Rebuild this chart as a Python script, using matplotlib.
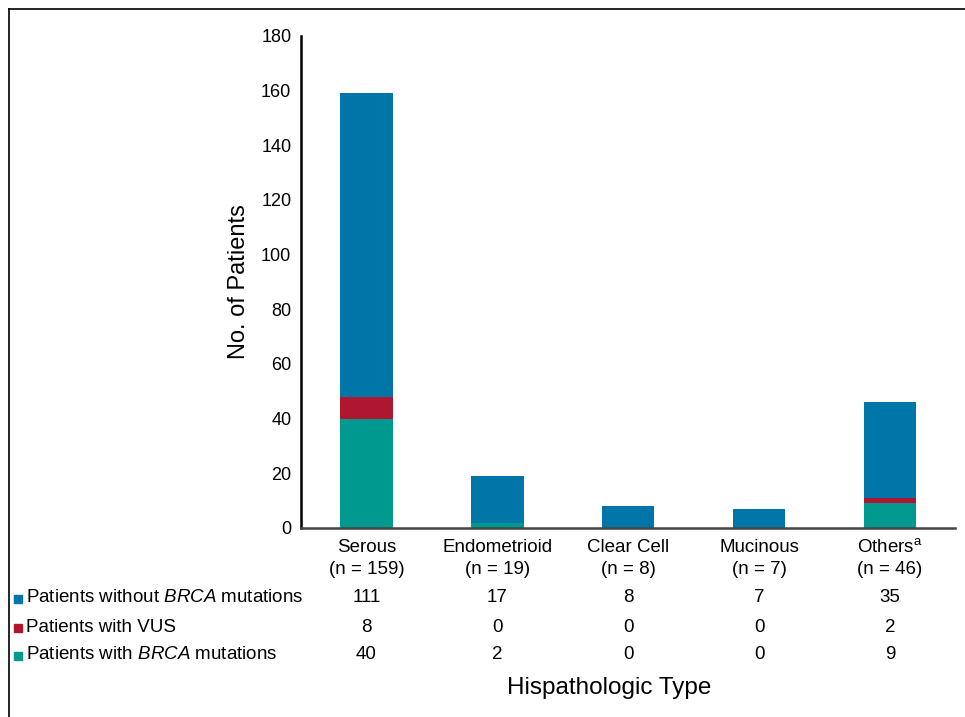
import matplotlib
matplotlib.use("Agg")
import matplotlib.pyplot as plt
from matplotlib.lines import Line2D
from matplotlib.patches import Rectangle
import matplotlib.transforms as mtransforms

plt.rcParams['font.family'] = ['Liberation Sans', 'DejaVu Sans']
plt.rcParams['mathtext.fontset'] = 'custom'
plt.rcParams['mathtext.rm'] = 'Liberation Sans'
plt.rcParams['mathtext.it'] = 'Liberation Sans:italic'

# data
categories = ['Serous', 'Endometrioid', 'Clear Cell', 'Mucinous', 'Others$^{\\rm a}$']
n_labels = ['(n = 159)', '(n = 19)', '(n = 8)', '(n = 7)', '(n = 46)']
brca = [40, 2, 0, 0, 9]
vus = [8, 0, 0, 0, 2]
no_brca = [111, 17, 8, 7, 35]

c_blue = '#0075A8'
c_red = '#AF1730'
c_teal = '#009990'

fig = plt.figure(figsize=(9.65, 7.17), dpi=100)
ax = fig.add_axes([0.312, 0.2636, 0.678, 0.6862])

x = list(range(len(categories)))
bottom2 = [a + b for a, b in zip(brca, vus)]
ax.bar(x, brca, width=0.4, color=c_teal)
ax.bar(x, vus, width=0.4, bottom=brca, color=c_red)
ax.bar(x, no_brca, width=0.4, bottom=bottom2, color=c_blue)

ax.set_xlim(-0.5, 4.5)
ax.set_ylim(0, 180)
ax.set_yticks(range(0, 181, 20))
ax.tick_params(axis='y', length=0, labelsize=13, pad=7)
ax.set_xticks([])
ax.spines['top'].set_visible(False)
ax.spines['right'].set_visible(False)
ax.spines['left'].set_linewidth(1.8)
ax.spines['bottom'].set_linewidth(1.8)
ax.spines['bottom'].set_color('#444444')
ax.set_ylabel('No. of Patients', fontsize=17, labelpad=8)

fs = 13.5
trans = mtransforms.blended_transform_factory(ax.transData, fig.transFigure)
for i in x:
    ax.text(i, 0.237, categories[i], transform=trans, ha='center', va='center',
            fontsize=fs)
    ax.text(i, 0.2064, n_labels[i], transform=trans, ha='center', va='center',
            fontsize=fs)

rows = [('Patients without $\\it{BRCA}$ mutations', no_brca, c_blue, 0.166),
        ('Patients with VUS', vus, c_red, 0.1255),
        ('Patients with $\\it{BRCA}$ mutations', brca, c_teal, 0.0865)]
for label, vals, col, yy in rows:
    fig.patches.append(Rectangle((0.0145, yy - 0.0075), 0.0085, 0.0115,
                                 transform=fig.transFigure, color=col))
    fig.text(0.0265, yy, label, ha='left', va='center', fontsize=fs)
    for i in x:
        ax.text(i, yy, str(vals[i]), transform=trans, ha='center', va='center',
                fontsize=fs)

fig.text(0.631, 0.0404, 'Hispathologic Type', ha='center', va='center',
         fontsize=17.5)

# frame
fig.add_artist(Line2D([0.0098, 0.0098], [0, 0.9875], color='black', lw=1.2,
                      transform=fig.transFigure))
fig.add_artist(Line2D([0.0098, 1.0], [0.9875, 0.9875], color='black', lw=1.2,
                      transform=fig.transFigure))

fig.savefig('out.png', dpi=100)
